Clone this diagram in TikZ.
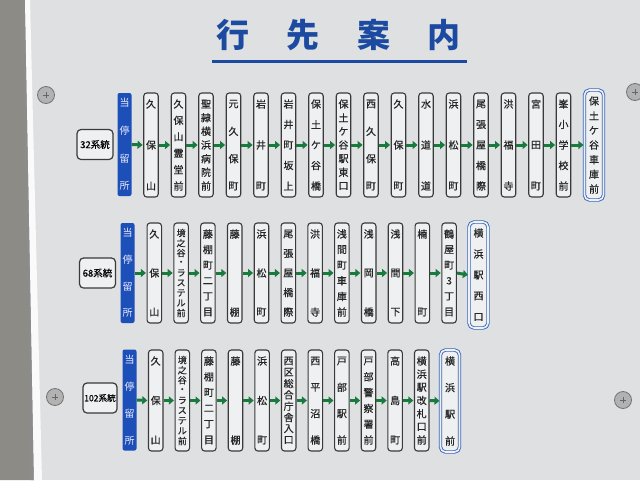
\documentclass[tikz,border=0pt]{standalone}
\usepackage{fontspec}
\setmainfont{Noto Sans CJK JP}
\newfontfamily\jp[FakeBold=0.6]{Noto Sans CJK JP}
\newfontfamily\jpt{Noto Sans CJK JP}
\usetikzlibrary{arrows.meta}
\definecolor{signbg}{HTML}{DEE0E2}
\definecolor{boxbg}{HTML}{EEF0F1}
\definecolor{tblue}{HTML}{1C4AA0}
\definecolor{sblue}{HTML}{1D4FB8}
\definecolor{dblue}{HTML}{3A68BE}
\definecolor{agreen}{HTML}{187A3C}
\definecolor{edge}{HTML}{3A3A3A}
\definecolor{pole}{HTML}{8C8B86}
\tikzset{
  stnbox/.style={draw=edge, fill=boxbg, line width=1.1pt, rounded corners=3pt, minimum width=14.5pt, inner sep=0pt},
  termbox/.style={draw=dblue, double=boxbg, double distance=1.6pt, line width=0.9pt, fill=boxbg, rounded corners=5pt, minimum width=19pt, inner sep=0pt},
  stopbox/.style={fill=sblue, rounded corners=2pt, minimum width=14pt, inner sep=0pt},
  syslabel/.style={draw=edge, fill=boxbg, line width=1.2pt, rounded corners=4pt, minimum width=36pt, minimum height=30pt, inner sep=0pt, font=\jp\fontsize{9.5}{10}\selectfont},
  stnch/.style={inner sep=0pt, text=black!85},
  garrow/.style={draw=agreen, line width=3pt, -{Triangle[length=5pt,width=8pt]}, shorten >=0.6pt},
  screw/.style={circle, draw=black!55, line width=0.8pt, fill=black!30, minimum size=17pt, inner sep=0pt},
}
% #1 name, #2 cx, #3 cy, #4 height, #5 style, #6 list of characters
\newcommand\mkstn[6]{%
  \node[#5, minimum height=#4] (#1) at (#2,#3) {};
  \edef\chlist{#6}%
  \foreach \ch [count=\k] in \chlist {\xdef\nch{\k}}%
  \ifnum\nch>8 \gdef\chfont{\jp\fontsize{9}{9}\selectfont}\def\chpad{10}\else\gdef\chfont{\jp\fontsize{10}{10}\selectfont}\def\chpad{11}\fi
  \foreach \ch [count=\k] in \chlist {
    \pgfmathsetmacro\yy{#3 - #4/2 + \chpad + (\k-1)*(#4-2*\chpad)/(\nch-1)}
    \node[stnch, font=\chfont] (#1c\k) at (#2,\yy) {\ch};
  }
}
\newcommand\mkstop[4]{% name, cx, cy, h
  \node[stopbox, minimum height=#4] (#1) at (#2,#3) {};
  \foreach \ch [count=\k] in {当,停,留,所} {
    \pgfmathsetmacro\yy{#3 - #4/2 + 10 + (\k-1)*(#4-20)/3}
    \node[stnch, text=white!92!blue, font=\jpt\fontsize{10}{10}\selectfont] (#1c\k) at (#2,\yy) {\ch};
  }
}
\begin{document}
\begin{tikzpicture}[x=1pt,y=-1pt]
\useasboundingbox (0,0) rectangle (640,480);
% background: sign and pole
\fill[signbg] (0,0) rectangle (640,480);
\fill[pole] (0,0) -- (25,0) -- (34,480) -- (0,480) -- cycle;
\fill[black!45] (22,0) -- (25,0) -- (34,480) -- (31,480) -- cycle;
\fill[white!96!gray] (25,0) -- (30,0) -- (42,480) -- (34,480) -- cycle;
% screws
\foreach \n/\sx/\sy in {sa/46/95, sb/55/397, sc/635/92, sd/623/400} {
  \node[screw] (\n) at (\sx,\sy) {};
  \draw[black!60, line width=1pt] ([xshift=-3pt]\n.center) -- ([xshift=3pt]\n.center);
  \draw[black!60, line width=1pt] ([yshift=-3pt]\n.center) -- ([yshift=3pt]\n.center);
}
% title
\foreach \t/\tx [count=\i] in {行/233, 先/303, 案/374, 内/444}
  \node[text=tblue, font=\jpt\bfseries\fontsize{33}{33}\selectfont, inner sep=0pt] (title\i) at (\tx,35) {\t};
\draw[tblue, line width=3pt] (212,61.5) coordinate (ula) -- (467,61.5) coordinate (ulb);

% ---------- row 1 : 32系統 ----------
\node[syslabel] (sys1) at (95,144.5) {32系統};
\mkstop{r1s0}{124.5}{144.5}{103}
\foreach \lst [count=\i] in {
  {久,保,山},{久,保,山,霊,堂,前},{聖,隷,横,浜,病,院,前},{元,久,保,町},{岩,井,町},
  {岩,井,町,坂,上},{保,土,ケ,谷,橋},{保,土,ケ,谷,駅,東,口},{西,久,保,町},{久,保,町},
  {水,道,道},{浜,松,町},{尾,張,屋,橋,際},{洪,福,寺},{宮,田,町},{峯,小,学,校,前}} {
  \pgfmathsetmacro\cx{151+27.5*(\i-1)}
  \mkstn{r1s\i}{\cx}{145}{104}{stnbox}{\lst}
}
\mkstn{r1s17}{594}{145}{110}{termbox}{保,土,ケ,谷,車,庫,前}
\foreach \i in {1,...,17} {
  \pgfmathtruncatemacro\j{\i-1}
  \draw[garrow] (r1s\j.east) -- (r1s\i.west);
}

% ---------- row 2 : 68系統 ----------
\node[syslabel] (sys2) at (97.5,273) {68系統};
\mkstop{r2s0}{127.5}{273}{100}
\foreach \lst [count=\i] in {
  {久,保,山},{境,之,谷,・,ラ,ス,テ,ル,前},{藤,棚,町,二,丁,目},{藤,棚},{浜,松,町},
  {尾,張,屋,橋,際},{洪,福,寺},{浅,間,町,車,庫,前},{浅,岡,橋},{浅,間,下},
  {楠,町},{鶴,屋,町,3,丁,目}} {
  \pgfmathsetmacro\cx{154.3+26.8*(\i-1)}
  \mkstn{r2s\i}{\cx}{273}{100}{stnbox}{\lst}
}
\mkstn{r2s13}{478.5}{275}{106}{termbox}{横,浜,駅,西,口}
\foreach \i in {1,...,13} {
  \pgfmathtruncatemacro\j{\i-1}
  \draw[garrow] (r2s\j.east) -- (r2s\i.west);
}

% ---------- row 3 : 102系統 ----------
\node[syslabel, minimum width=34pt, font=\jp\fontsize{8.6}{9}\selectfont] (sys3) at (100,398) {102系統};
\mkstop{r3s0}{129.5}{400}{101}
\foreach \lst [count=\i] in {
  {久,保,山},{境,之,谷,・,ラ,ス,テ,ル,前},{藤,棚,町,二,丁,目},{藤,棚},{浜,松,町},
  {西,区,総,合,庁,舎,入,口},{西,平,沼,橋},{戸,部,駅,前},{戸,部,警,察,署,前},{高,島,町},
  {横,浜,駅,改,札,口,前}} {
  \pgfmathsetmacro\cx{155.7+26.6*(\i-1)}
  \mkstn{r3s\i}{\cx}{400.5}{101}{stnbox}{\lst}
}
\mkstn{r3s12}{450}{401}{102}{termbox}{横,浜,駅,前}
\foreach \i in {1,...,12} {
  \pgfmathtruncatemacro\j{\i-1}
  \draw[garrow] (r3s\j.east) -- (r3s\i.west);
}
\end{tikzpicture}
\end{document}
